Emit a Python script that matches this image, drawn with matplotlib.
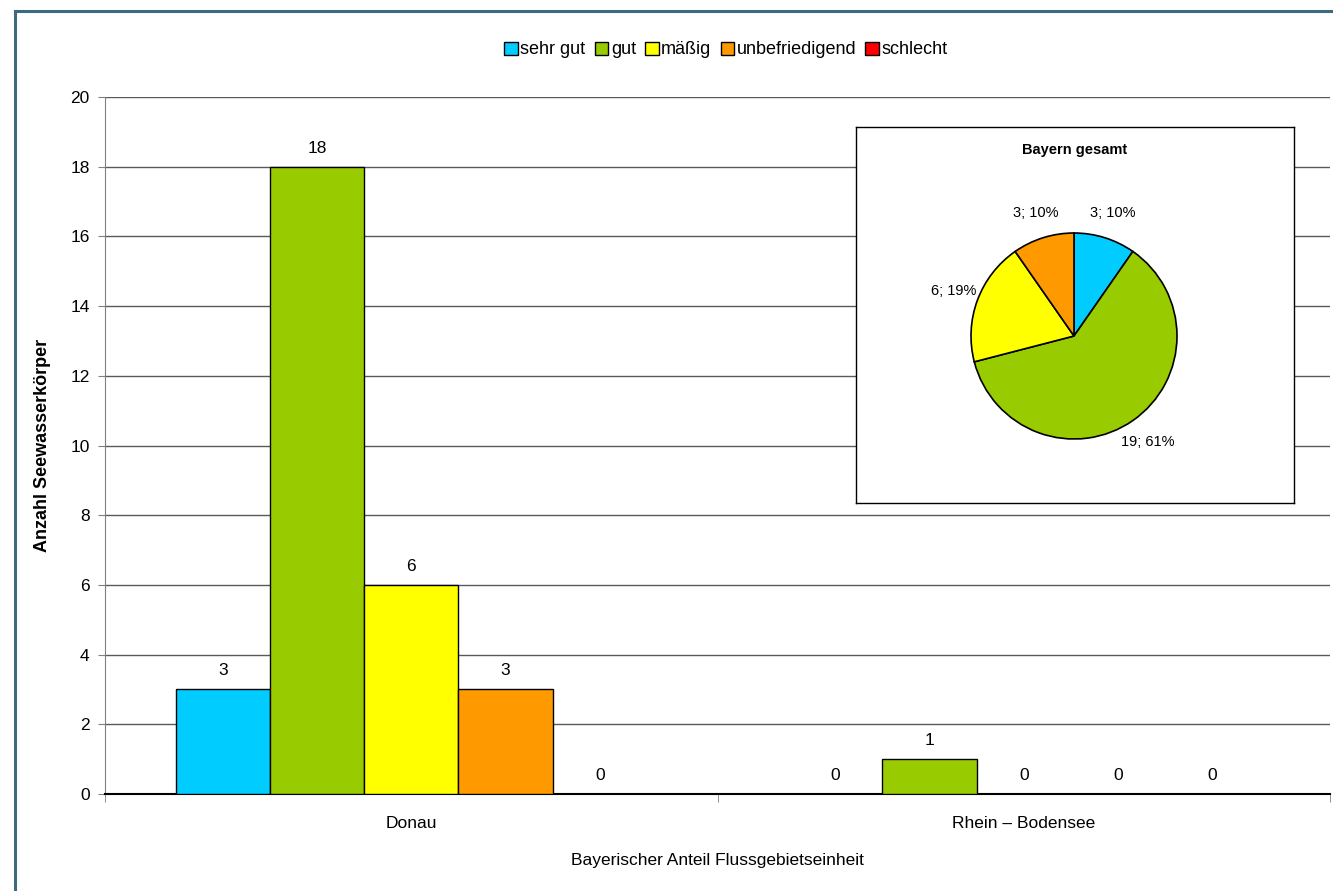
import matplotlib.pyplot as plt
import numpy as np
from matplotlib.lines import Line2D

plt.rcParams['font.family'] = ['Liberation Sans', 'DejaVu Sans']

# data
regions = ['Donau', 'Rhein – Bodensee']
classes = ['sehr gut', 'gut', 'mäßig', 'unbefriedigend', 'schlecht']
counts = {
    'sehr gut': [3, 0],
    'gut': [18, 1],
    'mäßig': [6, 0],
    'unbefriedigend': [3, 0],
    'schlecht': [0, 0],
}
colors = ['#00CCFF', '#99CC00', '#FFFF00', '#FF9900', '#FF0000']
pie_title = 'Bayern gesamt'

W, H = 1333, 891
fig = plt.figure(figsize=(W / 100, H / 100), dpi=100)
fig.patch.set_facecolor('white')

# main bar chart
ax = fig.add_axes([105 / W, 1 - 794 / H, (1330 - 105) / W, (794 - 97) / H])
x = np.arange(len(regions))
n = len(classes)
w = 1 / (n + 1.5)  # gap width 150 %
for j, (cls, col) in enumerate(zip(classes, colors)):
    vals = counts[cls]
    bars = ax.bar(x + (j - (n - 1) / 2) * w, vals, width=w, color=col,
                  edgecolor='black', linewidth=1, label=cls, zorder=3)
    for b, v in zip(bars, vals):
        ax.annotate(str(v), (b.get_x() + b.get_width() / 2, v),
                    xytext=(0, 8), textcoords='offset points',
                    ha='center', va='bottom', fontsize=12.5, color='black')

ax.set_xlim(-0.5, len(regions) - 0.5)
ax.set_ylim(0, 20)
ax.set_yticks(range(0, 21, 2))
ax.yaxis.grid(True, color='#5a5a5a', linewidth=1, zorder=0)
ax.set_axisbelow(True)
ax.set_xticks(x)
ax.set_xticklabels(regions)
ax.set_xticks(np.arange(-0.5, len(regions)), minor=True)
ax.tick_params(axis='x', which='major', length=0, pad=16, labelsize=12.5)
ax.tick_params(axis='x', which='minor', length=6, color='#808080')
ax.tick_params(axis='y', length=5, color='#808080', labelsize=12.5, pad=6)
for s in ['top', 'right']:
    ax.spines[s].set_visible(False)
ax.spines['left'].set_color('#808080')
ax.spines['bottom'].set_color('black')
ax.spines['bottom'].set_linewidth(1.5)

ax.set_ylabel('Anzahl Seewasserkörper', fontsize=13, fontweight='bold', labelpad=14)
ax.set_xlabel('Bayerischer Anteil Flussgebietseinheit', fontsize=12.5, labelpad=16)

leg = fig.legend(loc='center', bbox_to_anchor=(726 / W, 1 - 50 / H), ncol=5,
                 frameon=False, fontsize=13, handlelength=0.75, handleheight=0.75,
                 handletextpad=0.15, columnspacing=0.5)

# inset box for the pie
box = fig.add_axes([856 / W, 1 - 503 / H, (1294 - 856) / W, (503 - 127) / H], zorder=5)
box.set_xticks([])
box.set_yticks([])
for s in box.spines.values():
    s.set_color('black')
    s.set_linewidth(1)
box.text(0.5, 0.939, pie_title, transform=box.transAxes, ha='center', va='center',
         fontsize=10.5, fontweight='bold')

totals = [sum(counts[c]) for c in classes]
total = sum(totals)
pie_vals = [t for t in totals if t > 0]
pie_cols = [c for c, t in zip(colors, totals) if t > 0]
pie_labels = [f'{t}; {round(100 * t / total):.0f}%' for t in pie_vals]

r = 103
cx, cy = 1074, 336
pax = fig.add_axes([(cx - r) / W, 1 - (cy + r) / H, 2 * r / W, 2 * r / H], zorder=6)
wedges, texts = pax.pie(pie_vals, colors=pie_cols, startangle=90, counterclock=False,
                        labels=pie_labels, labeldistance=1.25,
                        wedgeprops=dict(edgecolor='black', linewidth=1.2),
                        textprops=dict(fontsize=10.5))
for t in texts:
    t.set_ha('center')
pax.set_xlim(-1, 1)
pax.set_ylim(-1, 1)

# outer frame (left and top edges)
fig.add_artist(Line2D([14.5 / W, 14.5 / W], [0, 1 - 10.5 / H], color='#3E6A80', linewidth=2.2))
fig.add_artist(Line2D([14.5 / W, 1], [1 - 10.5 / H, 1 - 10.5 / H], color='#3E6A80', linewidth=2.2))

fig.savefig('out.png', dpi=100)
